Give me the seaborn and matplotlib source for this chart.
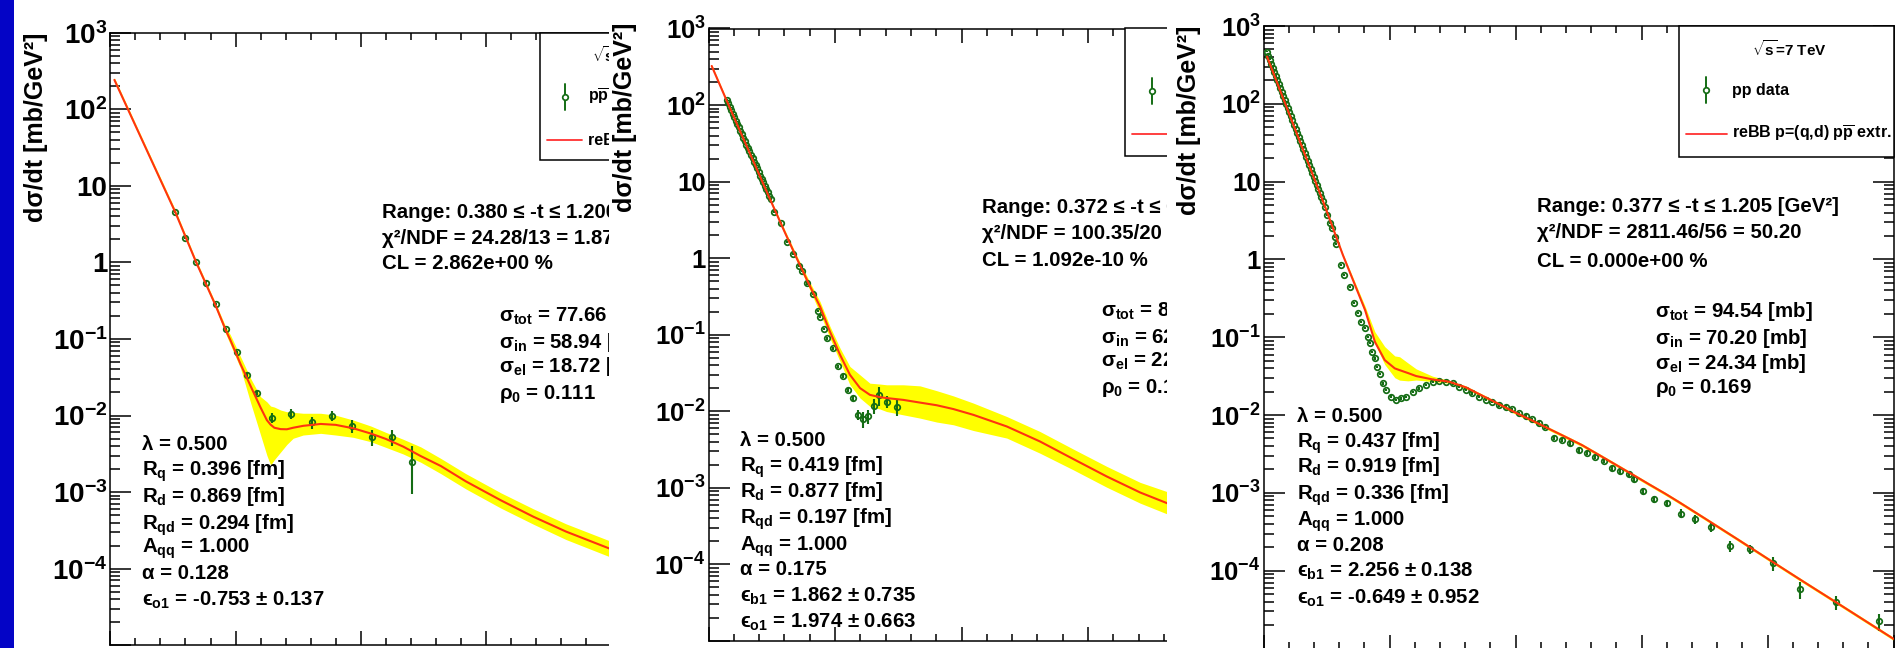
import numpy as np
import matplotlib
matplotlib.use("Agg")
import matplotlib.pyplot as plt
import seaborn as sns
from matplotlib.patches import Rectangle
from matplotlib.transforms import Bbox, TransformedBbox
from matplotlib.ticker import MultipleLocator, LogLocator, NullFormatter

sns.set_theme(style="ticks")
plt.rcParams.update({
    "font.family": ["Liberation Sans", "DejaVu Sans"],
    "font.weight": "bold",
    "mathtext.fontset": "custom",
    "mathtext.rm": "Liberation Sans:bold",
    "mathtext.it": "Liberation Sans:bold:italic",
    "mathtext.bf": "Liberation Sans:bold",
    "mathtext.sf": "Liberation Sans:bold",
    "mathtext.default": "rm",
    "text.color": "black",
    "axes.labelcolor": "black",
    "xtick.color": "black",
    "ytick.color": "black",
    "axes.edgecolor": "black",
    "axes.linewidth": 1.1,
})

# ---------------- data: panel 1 (sqrt(s)=1.96 TeV, p pbar) ----------------
t_d1 = [0.26, 0.30, 0.34, 0.38, 0.42, 0.462, 0.504, 0.545, 0.584, 0.644, 0.722,
        0.804, 0.884, 0.964, 1.044, 1.124, 1.204]
y_d1 = [4.53, 2.09, 1.02, 0.545, 0.288, 0.134, 0.0668, 0.0338, 0.0195, 0.00935,
        0.0105, 0.00815, 0.00993, 0.0073, 0.00519, 0.00519, 0.00245]
e_d1 = [0.15, 0.07, 0.035, 0.02, 0.011, 0.005, 0.0028, 0.0016, 0.0012, 0.0013,
        0.0015, 0.0014, 0.0015, 0.0014, 0.0012, 0.0012, 0.0015]
t_f1 = [0.016, 0.26, 0.34, 0.42, 0.46, 0.48, 0.52, 0.56, 0.60, 0.625, 0.64, 0.655,
        0.68, 0.705, 0.73, 0.77, 0.84, 0.90, 0.97, 1.04, 1.10, 1.17, 1.24, 1.32,
        1.42, 1.56, 1.69, 1.82, 1.99, 2.05]
y_f1 = [242, 4.47, 1.05, 0.275, 0.132, 0.0955, 0.0468, 0.0243, 0.0127, 0.00871,
        0.00759, 0.00692, 0.00664, 0.00661, 0.00692, 0.00733, 0.00776, 0.00755,
        0.00681, 0.00582, 0.00495, 0.00392, 0.00295, 0.00219, 0.00138, 0.00078,
        0.000476, 0.000305, 0.000185, 0.000155]
hi_f1 = [258, 4.80, 1.12, 0.295, 0.146, 0.112, 0.0586, 0.0306, 0.0176, 0.0151,
         0.0133, 0.0129, 0.0118, 0.0112, 0.0110, 0.0107, 0.0107, 0.0101, 0.00873,
         0.0073, 0.00603, 0.00489, 0.00389, 0.00275, 0.00174, 0.000977, 0.000603,
         0.000385, 0.000234, 0.0002]
lo_f1 = [227, 4.17, 0.98, 0.255, 0.118, 0.0834, 0.0413, 0.0147, 0.00556, 0.00302,
         0.00225, 0.00265, 0.00333, 0.00419, 0.00504, 0.00556, 0.00585, 0.00556,
         0.00519, 0.00455, 0.00384, 0.00314, 0.00245, 0.00174, 0.0011, 0.000617,
         0.00038, 0.00024, 0.000145, 0.00012]

# ---------------- data: panel 2 (sqrt(s)=2.76 TeV, pp) ----------------
t_d2 = [0.072, 0.078, 0.084, 0.090, 0.096, 0.102, 0.108, 0.114, 0.120, 0.126,
        0.132, 0.138, 0.144, 0.150, 0.156, 0.162, 0.168, 0.174, 0.180, 0.186,
        0.192, 0.198, 0.204, 0.210, 0.216, 0.222, 0.228, 0.234, 0.240, 0.246,
        0.259, 0.285, 0.311, 0.335, 0.358, 0.371, 0.390, 0.415, 0.434, 0.441,
        0.456, 0.470, 0.491, 0.513, 0.533, 0.553, 0.572, 0.592, 0.612, 0.632,
        0.654, 0.675, 0.704, 0.744]
y_d2 = [116.6, 105.2, 94.9, 86.4, 77.2, 69.7, 62.8, 56.7, 51.1, 45.3,
        41.6, 37.5, 33.9, 30.5, 27.6, 25.4, 22.4, 20.2, 18.3, 16.5,
        14.9, 13.4, 11.8, 10.9, 9.83, 8.87, 8.00, 7.22, 6.51, 5.87,
        4.06, 2.86, 1.63, 1.14, 0.794, 0.674, 0.468, 0.343, 0.204, 0.173,
        0.119, 0.0901, 0.0668, 0.0385, 0.0290, 0.0191, 0.0149, 0.0090, 0.0079, 0.0086,
        0.0119, 0.0164, 0.0134, 0.0113]
e_d2 = [3.5, 3.2, 2.8, 2.6, 2.3, 2.1, 1.9, 1.7, 1.5, 1.4,
        1.2, 1.1, 1.0, 0.92, 0.83, 0.75, 0.67, 0.61, 0.55, 0.50,
        0.45, 0.40, 0.36, 0.33, 0.30, 0.27, 0.24, 0.22, 0.20, 0.18,
        0.12, 0.09, 0.05, 0.035, 0.025, 0.021, 0.015, 0.011, 0.007, 0.006,
        0.0045, 0.0035, 0.0028, 0.0018, 0.0015, 0.0012, 0.0011, 0.0013, 0.0019, 0.0018,
        0.0027, 0.0045, 0.0024, 0.0026]
t_f2 = [0.0126, 0.069, 0.25, 0.30, 0.35, 0.40, 0.441, 0.480, 0.520, 0.559, 0.599,
        0.638, 0.678, 0.704, 0.770, 0.836, 0.902, 0.968, 1.047, 1.179, 1.310, 1.442,
        1.574, 1.706, 1.811, 1.87]
y_f2 = [324, 120, 5.25, 2.24, 0.977, 0.437, 0.233, 0.110, 0.0547, 0.0300, 0.0201,
        0.0164, 0.0153, 0.0149, 0.0141, 0.0130, 0.0120, 0.0107, 0.00899, 0.00634,
        0.00404, 0.00238, 0.00141, 0.000871, 0.000634, 0.000525]
hi_f2 = [339, 126, 5.50, 2.40, 1.06, 0.490, 0.271, 0.129, 0.0668, 0.0385, 0.0299,
         0.0233, 0.0227, 0.0222, 0.0222, 0.0215, 0.0186, 0.0159, 0.0128, 0.00855,
         0.00545, 0.00321, 0.00191, 0.00118, 0.000897, 0.000741]
lo_f2 = [309, 115, 5.01, 2.09, 0.902, 0.389, 0.191, 0.0902, 0.0447, 0.0222, 0.0149,
         0.0116, 0.0107, 0.00993, 0.00899, 0.00815, 0.00724, 0.00667, 0.00561, 0.00447,
         0.00284, 0.00172, 0.00102, 0.000632, 0.000459, 0.000372]

# ---------------- data: panel 3 (sqrt(s)=7 TeV, pp) ----------------
t_d3 = [0.013, 0.019, 0.025, 0.031, 0.037, 0.043, 0.049, 0.055, 0.061, 0.067,
        0.073, 0.079, 0.085, 0.091, 0.097, 0.103, 0.109, 0.115, 0.121, 0.127,
        0.133, 0.139, 0.145, 0.151, 0.157, 0.163, 0.169, 0.175, 0.181, 0.187,
        0.193, 0.199, 0.205, 0.211, 0.217, 0.223, 0.229, 0.235,
        0.243, 0.250, 0.263, 0.272, 0.283, 0.289, 0.309, 0.320, 0.342, 0.359,
        0.375, 0.388, 0.402, 0.415, 0.422, 0.431, 0.441, 0.452, 0.461, 0.474,
        0.487, 0.507, 0.526, 0.546, 0.566, 0.592, 0.619, 0.645, 0.671, 0.698,
        0.724, 0.750, 0.777, 0.803, 0.829, 0.856, 0.882, 0.908, 0.935, 0.961,
        0.987, 1.014, 1.040, 1.066, 1.093, 1.119, 1.152, 1.185, 1.218, 1.251,
        1.284, 1.317, 1.350, 1.383, 1.416, 1.449, 1.469, 1.504, 1.550, 1.603,
        1.655, 1.712, 1.775, 1.851, 1.932, 2.022, 2.130, 2.270, 2.441]
y_d3 = [467, 414, 368, 326, 289, 257, 228, 202, 179, 159,
        141, 125, 111, 98.6, 87.5, 77.6, 68.9, 61.1, 54.2, 48.1,
        42.7, 37.9, 33.6, 29.8, 26.5, 23.5, 20.8, 18.5, 16.4, 14.6,
        12.9, 11.5, 10.2, 9.03, 8.01, 7.11, 6.31, 5.60,
        4.76, 3.73, 2.92, 2.51, 1.96, 1.58, 0.849, 0.631, 0.447, 0.273,
        0.203, 0.158, 0.130, 0.101, 0.0836, 0.0650, 0.0535, 0.0417, 0.0337, 0.0255,
        0.0209, 0.0172, 0.0156, 0.0164, 0.0172, 0.0199, 0.0220, 0.0243, 0.0268, 0.0276,
        0.0268, 0.0255, 0.0231, 0.0209, 0.0190, 0.0172, 0.0156, 0.0148, 0.0134, 0.0128,
        0.0118, 0.0105, 0.00968, 0.00879, 0.00794, 0.00706, 0.00509, 0.00476, 0.00432, 0.00354,
        0.00327, 0.00290, 0.00258, 0.00206, 0.00192, 0.00174, 0.00153, 0.00105, 0.00083, 0.000731,
        0.000543, 0.000455, 0.000366, 0.000208, 0.000189, 0.000124, 5.77e-5, 3.96e-5, 2.24e-5]
e_d3 = [9.3, 8.3, 7.4, 6.5, 5.8, 5.1, 4.6, 4.0, 3.6, 3.2,
        2.8, 2.5, 2.2, 2.0, 1.75, 1.55, 1.38, 1.22, 1.08, 0.96,
        0.85, 0.76, 0.67, 0.60, 0.53, 0.47, 0.42, 0.37, 0.33, 0.29,
        0.26, 0.23, 0.20, 0.18, 0.16, 0.14, 0.13, 0.11,
        0.14, 0.11, 0.09, 0.075, 0.06, 0.05, 0.026, 0.019, 0.014, 0.0085,
        0.0065, 0.005, 0.0041, 0.0033, 0.0028, 0.0022, 0.0018, 0.0015, 0.0012, 0.001,
        0.0008, 0.0007, 0.0006, 0.0006, 0.0006, 0.0007, 0.0008, 0.0008, 0.0009, 0.0009,
        0.0009, 0.0009, 0.0008, 0.0008, 0.0007, 0.0007, 0.0006, 0.0006, 0.0006, 0.0006,
        0.0006, 0.0005, 0.0005, 0.0005, 0.0005, 0.0004, 0.0003, 0.0003, 0.0003, 0.00025,
        0.00023, 0.0002, 0.00019, 0.00016, 0.00015, 0.00014, 0.00013, 0.0001, 9e-5, 8e-5,
        7e-5, 6e-5, 5e-5, 3.5e-5, 2.3e-5, 2.5e-5, 1.4e-5, 8e-6, 5.5e-6]
t_f3 = [0.0138, 0.236, 0.315, 0.403, 0.442, 0.481, 0.521, 0.540, 0.573, 0.606, 0.671,
        0.737, 0.803, 0.869, 0.935, 1.001, 1.066, 1.132, 1.198, 1.264, 1.330, 1.396,
        1.462, 1.528, 1.594, 1.647, 1.752, 1.883, 2.015, 2.147, 2.279, 2.410, 2.50]
y_f3 = [405, 5.62, 1.14, 0.224, 0.0875, 0.0509, 0.0398, 0.0378, 0.0347, 0.0317, 0.0287,
        0.0268, 0.0227, 0.0177, 0.0138, 0.0107, 0.00851, 0.00668, 0.00525, 0.00411,
        0.00309, 0.00232, 0.00174, 0.00130, 0.000977, 0.000767, 0.000468, 0.000251,
        0.000133, 7.08e-5, 3.80e-5, 2.04e-5, 1.33e-5]
hi_f3 = [424, 5.88, 1.19, 0.251, 0.1175, 0.0759, 0.0575, 0.0562, 0.0468, 0.0392, 0.0316,
         0.0279, 0.0237, 0.0185, 0.0145, 0.0112, 0.00891, 0.00699, 0.00550, 0.00430,
         0.00324, 0.00243, 0.00182, 0.00136, 0.00102, 0.000803, 0.000490, 0.000263,
         0.000139, 7.41e-5, 3.98e-5, 2.14e-5, 1.39e-5]
lo_f3 = [387, 5.37, 1.09, 0.209, 0.0832, 0.0447, 0.0302, 0.0281, 0.0275, 0.0282, 0.0269,
         0.0257, 0.0217, 0.0169, 0.0132, 0.0102, 0.00813, 0.00638, 0.00501, 0.00392,
         0.00295, 0.00222, 0.00166, 0.00124, 0.000933, 0.000732, 0.000447, 0.000240,
         0.000127, 6.76e-5, 3.63e-5, 1.95e-5, 1.27e-5]

# ---------------- texts ----------------
ylab = "dσ/dt [mb/GeV²]"
ytick_vals = [1e-5, 1e-4, 1e-3, 1e-2, 1e-1, 1, 10, 1e2, 1e3]
ytick_labels = ["", r"$10^{-4}$", r"$10^{-3}$", r"$10^{-2}$", r"$10^{-1}$", "1", "10",
                r"$10^{2}$", r"$10^{3}$"]

fit1 = ["Range: 0.380 ≤ -t ≤ 1.200 [GeV²]", "χ²/NDF = 24.28/13 = 1.87", "CL = 2.862e+00 %"]
sig1 = [r"σ$_{tot}$ = 77.66 [mb]", r"σ$_{in}$ = 58.94 [mb]", r"σ$_{el}$ = 18.72 [mb]", r"ρ$_{0}$ = 0.111"]
par1 = ["λ = 0.500", r"R$_{q}$ = 0.396 [fm]", r"R$_{d}$ = 0.869 [fm]", r"R$_{qd}$ = 0.294 [fm]",
        r"A$_{qq}$ = 1.000", "α = 0.128", r"ϵ$_{o1}$ = -0.753 ± 0.137"]
leg1 = [r"$\sqrt{s}$=1.96 TeV", r"p$\overline{p}$ data", "reBB p=(q,d)"]

fit2 = ["Range: 0.372 ≤ -t ≤ 0.741 [GeV²]", "χ²/NDF = 100.35/20 = 5.02", "CL = 1.092e-10 %"]
sig2 = [r"σ$_{tot}$ = 84.70 [mb]", r"σ$_{in}$ = 62.28 [mb]", r"σ$_{el}$ = 22.42 [mb]", r"ρ$_{0}$ = 0.144"]
par2 = ["λ = 0.500", r"R$_{q}$ = 0.419 [fm]", r"R$_{d}$ = 0.877 [fm]", r"R$_{qd}$ = 0.197 [fm]",
        r"A$_{qq}$ = 1.000", "α = 0.175", r"ϵ$_{b1}$ = 1.862 ± 0.735", r"ϵ$_{o1}$ = 1.974 ± 0.663"]
leg2 = [r"$\sqrt{s}$=2.76 TeV", "pp data", r"reBB p=(q,d) p$\overline{p}$ extr."]

fit3 = ["Range: 0.377 ≤ -t ≤ 1.205 [GeV²]", "χ²/NDF = 2811.46/56 = 50.20", "CL = 0.000e+00 %"]
sig3 = [r"σ$_{tot}$ = 94.54 [mb]", r"σ$_{in}$ = 70.20 [mb]", r"σ$_{el}$ = 24.34 [mb]", r"ρ$_{0}$ = 0.169"]
par3 = ["λ = 0.500", r"R$_{q}$ = 0.437 [fm]", r"R$_{d}$ = 0.919 [fm]", r"R$_{qd}$ = 0.336 [fm]",
        r"A$_{qq}$ = 1.000", "α = 0.208", r"ϵ$_{b1}$ = 2.256 ± 0.138", r"ϵ$_{o1}$ = -0.649 ± 0.952"]
leg3 = [r"$\sqrt{s}$=7 TeV", "pp data", r"reBB p=(q,d) p$\overline{p}$ extr."]

# ---------------- layout (pixels) ----------------
W, H = 1901, 648
GREEN = "#146c14"
RED = "#ff3310"
YELLOW = "#ffff00"

panels = [
    dict(box=(110.4, 736.2, 32.7, 645.2), lab=(48.5, 32.7), tsize=20,
         fit_xy=(381.6, [211, 237, 262]), sig_xy=(498.8, [314, 341, 365, 392]),
         par_xy=(142, [443, 468, 495, 522, 545, 572, 598]),
         legbox=(540, 736.2, 32.7, 160), legtitle=(640, 55), legmk=(564.5, 97),
         legline=(547, 582, 140), legtx=588,
         data=(t_d1, y_d1, e_d1), fit=(t_f1, y_f1, lo_f1, hi_f1),
         fit_txt=fit1, sig_txt=sig1, par_txt=par1, leg_txt=leg1),
    dict(box=(708.5, 1341.0, 28.5, 641.0), lab=(637, 23), tsize=18.5,
         fit_xy=(982, [206, 232, 259]), sig_xy=(1101, [309, 335.5, 359, 386]),
         par_xy=(740, [439, 464, 490, 516, 543, 568, 594, 620]),
         legbox=(1125, 1341, 28.5, 156), legtitle=(1233, 50), legmk=(1152, 90.6),
         legline=(1132, 1172, 134), legtx=1178,
         data=(t_d2, y_d2, e_d2), fit=(t_f2, y_f2, lo_f2, hi_f2),
         fit_txt=fit2, sig_txt=sig2, par_txt=par2, leg_txt=leg2),
    dict(box=(1263.5, 1893.5, 26.0, 648.5), lab=(1201, 26), tsize=18.5,
         fit_xy=(1537, [204.4, 231, 259.6]), sig_xy=(1654.5, [309.5, 337, 362, 386]),
         par_xy=(1297, [415, 440, 465, 492.6, 518, 544, 569.5, 596]),
         legbox=(1679, 1893.5, 26, 157), legtitle=(1789, 49), legmk=(1706, 90),
         legline=(1686, 1727, 134), legtx=1732,
         data=(t_d3, y_d3, e_d3), fit=(t_f3, y_f3, lo_f3, hi_f3),
         fit_txt=fit3, sig_txt=sig3, par_txt=par3, leg_txt=leg3),
]
# each later panel is pasted over the right-hand part of the previous one
cover_x = [609, 1167, W]

fig = plt.figure(figsize=(W / 100, H / 100), dpi=100)
fig.patch.set_facecolor("white")

ANN = 14.7
LEG = 11.5
BASE = 0.36 * ANN * 100 / 72


def to_ax(box, x, y):
    l, r, t, b = box
    return (x - l) / (r - l), (b - y) / (b - t)


for i, P in enumerate(panels):
    z = 2 * i
    if i > 0:
        fig.add_artist(Rectangle((cover_x[i - 1] / W, 0), 1, 1, transform=fig.transFigure,
                                 facecolor="white", edgecolor="none", zorder=z - 1))
    clip = TransformedBbox(Bbox([[0, 0], [cover_x[i] / W, 1]]), fig.transFigure)
    l, r, t, b = P["box"]
    ax = fig.add_axes([l / W, 1 - b / H, (r - l) / W, (b - t) / H])
    ax.set_zorder(z)
    ax.set_yscale("log")

    tf, yf, lof, hif = P["fit"]
    ax.fill_between(tf, lof, hif, color=YELLOW, lw=0, zorder=1)
    td, yd, ed = P["data"]
    ax.errorbar(td, yd, yerr=ed, fmt="o", mfc="none", mec=GREEN, ms=4.0, mew=1.25,
                ecolor=GREEN, elinewidth=1.5, capsize=0, zorder=3)
    sns.lineplot(x=tf, y=yf, ax=ax, color=RED, lw=1.5, estimator=None, sort=False,
                 legend=False, zorder=4)

    ax.set_xlim(0, 2.5)
    ax.set_ylim(1e-5, 1e3)
    ax.xaxis.set_major_locator(MultipleLocator(0.5))
    ax.xaxis.set_minor_locator(MultipleLocator(0.1))
    ax.set_yticks(ytick_vals, labels=ytick_labels)
    ax.yaxis.set_minor_locator(LogLocator(base=10, subs=np.arange(2, 10), numticks=100))
    ax.yaxis.set_minor_formatter(NullFormatter())
    ax.tick_params(axis="y", which="major", direction="in", length=15, width=1.1,
                   left=True, right=True, labelsize=P["tsize"], pad=2)
    ax.tick_params(axis="y", which="minor", direction="in", length=7, width=1.1,
                   left=True, right=True)
    ax.tick_params(axis="x", which="major", direction="in", length=10, width=1.1,
                   top=True, bottom=True, labelbottom=False)
    ax.tick_params(axis="x", which="minor", direction="in", length=5, width=1.1,
                   top=True, bottom=True)
    for s in ax.spines.values():
        s.set_linewidth(1.1)
    ax.set_xlabel("")
    ax.set_ylabel(ylab, fontsize=18, fontweight="bold", loc="top")
    lx, ly = to_ax(P["box"], *P["lab"])
    ax.yaxis.set_label_coords(lx, ly)

    texts = []
    for key_xy, key_txt in (("fit_xy", "fit_txt"), ("sig_xy", "sig_txt"), ("par_xy", "par_txt")):
        x0, ys = P[key_xy]
        for s, y in zip(P[key_txt], ys):
            fx, fy = to_ax(P["box"], x0, y + BASE)
            texts.append(ax.text(fx, fy, s, transform=ax.transAxes, fontsize=ANN,
                                 va="baseline", ha="left", zorder=8))

    # legend box (drawn like the ROOT TLegend)
    bl, br, bt, bb = P["legbox"]
    fx0, fy0 = to_ax(P["box"], bl, bb)
    fx1, fy1 = to_ax(P["box"], br, bt)
    ax.add_patch(Rectangle((fx0, fy0), fx1 - fx0, fy1 - fy0, transform=ax.transAxes,
                           facecolor="white", edgecolor="black", lw=1.1, zorder=9,
                           clip_on=False))
    tx, ty = to_ax(P["box"], *P["legtitle"])
    texts.append(ax.text(tx, ty, P["leg_txt"][0], transform=ax.transAxes, fontsize=LEG - 0.5,
                         ha="center", va="center", zorder=10))
    mx, my = P["legmk"]
    fmx, fmy = to_ax(P["box"], mx, my)
    _, fmy0 = to_ax(P["box"], mx, my + 13)
    _, fmy1 = to_ax(P["box"], mx, my - 13)
    ax.plot([fmx, fmx], [fmy0, fmy1], transform=ax.transAxes, color=GREEN, lw=1.4,
            zorder=10, clip_on=False)
    ax.plot([fmx], [fmy], "o", transform=ax.transAxes, mfc="white", mec=GREEN, ms=4.0,
            mew=1.25, zorder=11, clip_on=False)
    ftx, _ = to_ax(P["box"], P["legtx"], my)
    texts.append(ax.text(ftx, fmy, P["leg_txt"][1], transform=ax.transAxes, fontsize=LEG,
                         ha="left", va="center", zorder=10))
    lx0, lx1, lyy = P["legline"]
    flx0, fly = to_ax(P["box"], lx0, lyy)
    flx1, _ = to_ax(P["box"], lx1, lyy)
    ax.plot([flx0, flx1], [fly, fly], transform=ax.transAxes, color="#ff3030", lw=1.3,
            zorder=10, clip_on=False)
    texts.append(ax.text(ftx, fly, P["leg_txt"][2], transform=ax.transAxes, fontsize=LEG,
                         ha="left", va="center", zorder=10))
    for tx_ in texts:
        tx_.set_clip_box(clip)
        tx_.set_clip_on(True)

# blue strip on the left edge
fig.add_artist(Rectangle((0, 0), 14 / W, 1, transform=fig.transFigure,
                         facecolor="#0404c6", edgecolor="none", zorder=20))

fig.savefig("out.png", dpi=100, facecolor="white")
